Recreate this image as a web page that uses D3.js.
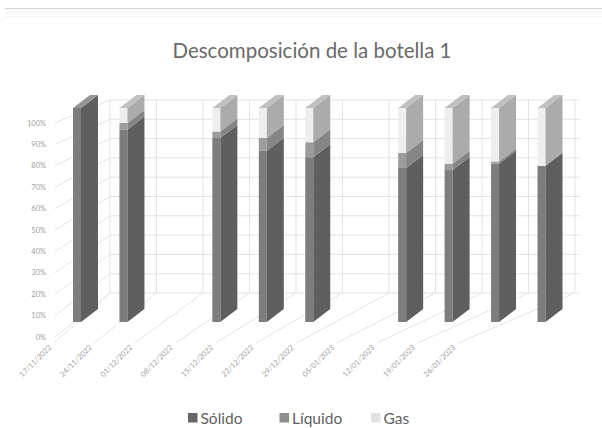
<!DOCTYPE html>
<html lang="es">
<head>
<meta charset="UTF-8">
<title>Descomposición de la botella 1</title>
<style>
  html, body { margin: 0; padding: 0; background: #fff; }
  svg { display: block; font-family: Lato, 'Open Sans', sans-serif; }
</style>
</head>
<body>
<svg id="svg" width="602" height="428"></svg>
<script src="https://d3js.org/d3.v7.min.js"></script>
<script>
// ----- DATA -----
const fechas = ['17/11/2022', '24/11/2022', '01/12/2022', '08/12/2022', '15/12/2022', '22/12/2022',
                '29/12/2022', '05/01/2023', '12/01/2023', '19/01/2023', '26/01/2023']
const solido  = [1.00, 0.90, null, 0.86, 0.80, 0.77, null, 0.72, 0.71, 0.74, 0.73]
const liquido = [0.00, 0.03, null, 0.03, 0.06, 0.07, null, 0.07, 0.03, 0.01, 0.00]
const gas     = [0.00, 0.07, null, 0.11, 0.14, 0.16, null, 0.21, 0.26, 0.25, 0.27]
const series = ['Sólido', 'Líquido', 'Gas']
const yTicks = [0, 0.1, 0.2, 0.3, 0.4, 0.5, 0.6, 0.7, 0.8, 0.9, 1]

// colours: legend / front face / side face / top face
const colors = {
  'Sólido':  {legend: '#666666', front: '#7d7d7d', side: '#5f5f5f', top: '#959595'},
  'Líquido': {legend: '#8e8e8e', front: '#9c9c9c', side: '#858585', top: '#a8a8a8'},
  'Gas':     {legend: '#e2e2e2', front: '#eeeeee', side: '#ababab', top: '#c0c0c0'}
}

const rows = fechas.map((f, i) => ({fecha: f, 'Sólido': solido[i], 'Líquido': liquido[i], 'Gas': gas[i]}))
const stacked = d3.stack().keys(series).value((d, k) => d[k] || 0)(rows)

// ----- SCALES -----
// front of the left wall / back wall / bars (fake 3D, oblique view)
const yFront = d3.scaleLinear().domain([0, 1]).range([337, 123])
const yBack  = d3.scaleLinear().domain([0, 1]).range([293, 100])
const yBar   = d3.scaleLinear().domain([0, 1]).range([322, 108])
const xBack  = d3.scalePoint().domain(fechas).range([110, 575])
const xBar   = d3.scalePoint().domain(fechas).range([85.5, 550])
const xLab   = d3.scalePoint().domain(fechas).range([52, 456])

const wallLeft = 55
const wallRight = 580
const floorFrontY = 343
const fw = 8      // front face width
const sw = 17     // side face width
const rise = 13   // side face rise

const svg = d3.select('#svg')
const grid = '#e3e3e3'

// page edge lines at the top
svg.append('line').attr('x1', 5).attr('x2', 602).attr('y1', 8.5).attr('y2', 8.5)
  .attr('stroke', '#d4d4d4').attr('stroke-width', 1)
svg.append('line').attr('x1', 5).attr('x2', 602).attr('y1', 12.5).attr('y2', 12.5)
  .attr('stroke', '#f2f2f2').attr('stroke-width', 1)
svg.append('line').attr('x1', 5).attr('x2', 602).attr('y1', 16.5).attr('y2', 16.5)
  .attr('stroke', '#f4f4f4').attr('stroke-width', 1)

// title
svg.append('text')
  .attr('x', 312).attr('y', 58)
  .attr('text-anchor', 'middle')
  .style('font-size', '20.5px')
  .attr('fill', '#6a6a6a')
  .text('Descomposición de la botella 1')

// ----- WALLS -----
const walls = svg.append('g').attr('stroke', grid).attr('stroke-width', 1).attr('fill', 'none')

// back wall horizontal gridlines
walls.selectAll('.hg').data(yTicks).enter().append('line')
  .attr('x1', xBack.range()[0]).attr('x2', wallRight)
  .attr('y1', d => yBack(d)).attr('y2', d => yBack(d))

// back wall vertical gridlines
walls.selectAll('.vg').data(fechas).enter().append('line')
  .attr('x1', d => xBack(d)).attr('x2', d => xBack(d))
  .attr('y1', yBack(0)).attr('y2', yBack(1))

// left side wall lines
walls.selectAll('.lw').data(yTicks).enter().append('line')
  .attr('x1', wallLeft).attr('y1', d => yFront(d))
  .attr('x2', xBack.range()[0]).attr('y2', d => yBack(d))

// floor lines
walls.selectAll('.fl').data(fechas).enter().append('line')
  .attr('x1', d => xLab(d) + 2).attr('y1', floorFrontY)
  .attr('x2', d => xBack(d)).attr('y2', yBack(0))

// ----- AXIS LABELS -----
svg.append('g').selectAll('text').data(yTicks).enter().append('text')
  .attr('x', 46).attr('y', d => yFront(d))
  .attr('dy', '0.35em')
  .attr('text-anchor', 'end')
  .style('font-size', '7.5px')
  .attr('fill', '#a0a0a0')
  .text(d => d3.format('.0%')(d))

svg.append('g').selectAll('text').data(fechas).enter().append('text')
  .attr('transform', d => `translate(${xLab(d)}, ${floorFrontY + 5}) rotate(-45)`)
  .attr('text-anchor', 'end')
  .style('font-size', '7.5px')
  .attr('fill', '#a0a0a0')
  .text(d => d)

// ----- BARS -----
const bars = svg.append('g')
stacked.forEach(layer => {
  const c = colors[layer.key]
  layer.forEach(seg => {
    const row = seg.data
    if (row[layer.key] == null || seg[1] - seg[0] <= 0) return
    const xl = xBar(row.fecha) - (fw + sw) / 2
    const yt = yBar(seg[1])
    const yb = yBar(seg[0])
    // front face
    bars.append('rect')
      .attr('x', xl).attr('y', yt)
      .attr('width', fw).attr('height', yb - yt)
      .attr('fill', c.front)
    // side face
    const xr = xl + fw
    bars.append('polygon')
      .attr('points', [[xr, yt], [xr + sw, yt - rise], [xr + sw, yb - rise], [xr, yb]].join(' '))
      .attr('fill', c.side)
    // top face, only for the top segment
    if (Math.abs(seg[1] - 1) < 1e-6) {
      bars.append('polygon')
        .attr('points', [[xl, yt], [xr, yt], [xr + sw, yt - rise], [xl + sw, yt - rise]].join(' '))
        .attr('fill', c.top)
    }
  })
})

// ----- LEGEND -----
const legendX = d3.scalePoint().domain(series).range([188, 371])
const legend = svg.append('g')
legend.selectAll('rect').data(series).enter().append('rect')
  .attr('x', d => legendX(d)).attr('y', 413)
  .attr('width', 9.5).attr('height', 9.5)
  .attr('fill', d => colors[d].legend)
legend.selectAll('text').data(series).enter().append('text')
  .attr('x', d => legendX(d) + 12.5).attr('y', 423.5)
  .style('font-size', '15.5px')
  .attr('fill', '#5f5f5f')
  .text(d => d)
</script>
</body>
</html>
